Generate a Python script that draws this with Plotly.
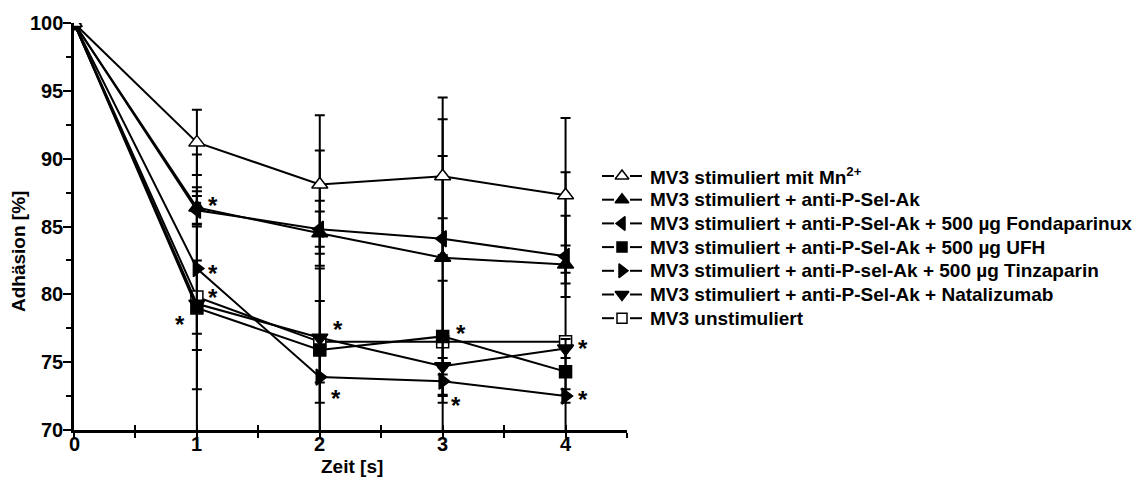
import plotly.graph_objects as go

# Zeitpunkte [s]
zeit = [0, 1, 2, 3, 4]

# Adhäsion [%] je Gruppe (Mittelwert und Fehler)
namen = [
    "MV3 stimuliert mit Mn<sup>2+</sup>",
    "MV3 stimuliert + anti-P-Sel-Ak",
    "MV3 stimuliert + anti-P-Sel-Ak + 500 µg Fondaparinux",
    "MV3 stimuliert + anti-P-Sel-Ak + 500 µg UFH",
    "MV3 stimuliert + anti-P-sel-Ak + 500 µg Tinzaparin",
    "MV3 stimuliert + anti-P-Sel-Ak + Natalizumab",
    "MV3 unstimuliert",
]
mn_stim = [100, 91.2, 88.1, 88.7, 87.3]
anti_psel = [100, 86.4, 84.5, 82.7, 82.2]
fondaparinux = [100, 86.2, 84.8, 84.1, 82.8]
ufh = [100, 79.0, 75.9, 76.9, 74.3]
tinzaparin = [100, 81.9, 73.9, 73.6, 72.5]
natalizumab = [100, 79.3, 76.8, 74.7, 76.0]
unstimuliert = [100, 79.8, 76.5, 76.5, 76.5]

err_mn_stim = [0, 2.4, 5.1, 5.8, 5.7]
err_anti_psel = [0, 1.2, 2.4, 10.2, 1.4]
err_fondaparinux = [0, 1.05, 1.3, 1.5, 3.0]
err_ufh = [0, 6.0, 6.0, 13.3, 1.7]
err_tinzaparin = [0, 6.0, 1.9, 1.0, 0.5]
err_natalizumab = [0, 11.0, 13.8, 0.6, 0.7]
err_unstimuliert = [0, 2.7, 3.0, 4.5, 12.5]

werte = [mn_stim, anti_psel, fondaparinux, ufh, tinzaparin, natalizumab, unstimuliert]
fehler = [err_mn_stim, err_anti_psel, err_fondaparinux, err_ufh,
          err_tinzaparin, err_natalizumab, err_unstimuliert]

# Achsenbeschriftung
y_ticks = [70, 75, 80, 85, 90, 95, 100]
x_ticks = [0, 1, 2, 3, 4]

# Signifikanz-Sterne: (Gruppe, Zeitindex, Versatz x px, Versatz y px)
sterne = [
    (1, 1, 16, 7), (4, 1, 16, 0), (6, 1, 16, 5), (3, 1, -17, -12),
    (5, 2, 18, 13), (4, 2, 16, -16),
    (3, 3, 18, 8), (4, 3, 13, -19),
    (6, 4, 17, -2), (4, 4, 17, 2),
]

symbole = ["triangle-up", "triangle-up", "triangle-left", "square",
           "triangle-right", "triangle-down", "square"]
fuellung = ["white", "black", "black", "black", "black", "black", "white"]
groessen = [14, 14, 14, 12, 14, 14, 12]

schrift = "Liberation Sans, Arial, sans-serif"

# Seitenaufteilung in Pixeln
BREITE, HOEHE = 1143, 487
RAND_L, RAND_R, RAND_O, RAND_U = 74, 5, 23, 57
FLAECHE_B = BREITE - RAND_L - RAND_R
FLAECHE_H = HOEHE - RAND_O - RAND_U
DIAGRAMM_B = 553          # Breite des Diagramms
LEG_X0, LEG_X1 = 598, BREITE - RAND_R
LEG_Y0 = 176              # erste Legendenzeile
LEG_DY = 23.7             # Zeilenabstand


def px_x(p):
    return (p - RAND_L) / FLAECHE_B


def px_y(p):
    return (HOEHE - RAND_U - p) / FLAECHE_H


fig = go.Figure()
# reversed drawing order so the filled markers sit above the open ones
for i in reversed(range(len(namen))):
    fig.add_trace(go.Scatter(
        x=zeit, y=werte[i], name=namen[i], mode="lines+markers",
        line=dict(color="black", width=2),
        marker=dict(symbol=symbole[i], size=groessen[i], color=fuellung[i],
                    line=dict(color="black", width=1.5)),
        error_y=dict(type="data", array=fehler[i], visible=True,
                     color="black", thickness=2, width=5),
        showlegend=False,
    ))

# invisible helper trace for the inner half of the crossing x ticks
fig.add_trace(go.Scatter(x=[0], y=[70], xaxis="x2", mode="markers",
                         marker=dict(opacity=0), showlegend=False,
                         hoverinfo="skip"))

# Legende: Linie mit Symbol und Text, Koordinaten in Pixeln (Achsen x3/y3)
for i, name in enumerate(namen):
    yy = LEG_Y0 + i * LEG_DY
    fig.add_trace(go.Scatter(
        x=[LEG_X0 + 4, LEG_X0 + 16, None, LEG_X0 + 32, LEG_X0 + 44],
        y=[yy, yy, None, yy, yy], xaxis="x3", yaxis="y3", mode="lines",
        line=dict(color="black", width=2), showlegend=False, hoverinfo="skip"))
    fig.add_trace(go.Scatter(
        x=[LEG_X0 + 24], y=[yy], xaxis="x3", yaxis="y3", mode="markers",
        marker=dict(symbol=symbole[i], size=groessen[i] - 2, color=fuellung[i],
                    line=dict(color="black", width=1.5)),
        showlegend=False, hoverinfo="skip", cliponaxis=False))
    fig.add_annotation(x=LEG_X0 + 50, y=yy, xref="x3", yref="y3",
                       text="<b>" + name + "</b>", showarrow=False,
                       xanchor="left", yanchor="middle",
                       font=dict(family=schrift, size=19, color="black"))

for g, t, dx, dy in sterne:
    fig.add_annotation(x=zeit[t], y=werte[g][t], text="<b>*</b>", showarrow=False,
                       xshift=dx, yshift=dy - 5,
                       font=dict(family=schrift, size=24, color="black"))

# Achsenbeschriftung als Text neben den Achsen
for v in x_ticks:
    fig.add_annotation(x=v, y=px_y(444), xref="x", yref="paper",
                       text="<b>%d</b>" % v, showarrow=False,
                       xanchor="center", yanchor="middle",
                       font=dict(family=schrift, size=20, color="black"))
for v in y_ticks:
    fig.add_annotation(x=px_x(65), y=v, xref="paper", yref="y",
                       text="<b>%d</b>" % v, showarrow=False,
                       xanchor="right", yanchor="middle",
                       font=dict(family=schrift, size=20, color="black"))

fig.add_annotation(x=px_x(18), y=px_y(252), xref="paper", yref="paper",
                   text="<b>Adhäsion [%]</b>", textangle=-90, showarrow=False,
                   xanchor="center", yanchor="middle",
                   font=dict(family=schrift, size=19, color="black"))
fig.add_annotation(x=px_x(352), y=px_y(467), xref="paper", yref="paper",
                   text="<b>Zeit [s]</b>", showarrow=False,
                   xanchor="center", yanchor="middle",
                   font=dict(family=schrift, size=19, color="black"))

dom_x = [0, DIAGRAMM_B / FLAECHE_B]
fig.update_layout(
    width=BREITE, height=HOEHE,
    margin=dict(l=RAND_L, r=RAND_R, t=RAND_O, b=RAND_U),
    plot_bgcolor="white", paper_bgcolor="white",
    font=dict(family=schrift, color="black"),
    showlegend=False,
    xaxis=dict(domain=dom_x, range=[0, 4.5], tickvals=x_ticks,
               showticklabels=False, showgrid=False, zeroline=False,
               showline=True, linecolor="black", linewidth=2.5,
               ticks="outside", ticklen=5, tickwidth=2, tickcolor="black",
               minor=dict(dtick=0.5, tick0=0, ticks="outside", ticklen=5,
                          tickwidth=2, tickcolor="black")),
    xaxis2=dict(domain=dom_x, range=[0, 4.5], overlaying="x", anchor="y",
                dtick=0.5, tick0=0, showgrid=False, zeroline=False,
                showline=False, ticks="inside", ticklen=5, tickwidth=2,
                tickcolor="black", showticklabels=False, side="bottom"),
    yaxis=dict(range=[70, 100], tickvals=y_ticks, showticklabels=False,
               showgrid=False, zeroline=False,
               showline=True, linecolor="black", linewidth=2.5,
               ticks="outside", ticklen=8, tickwidth=2, tickcolor="black",
               minor=dict(dtick=2.5, tick0=70, ticks="outside", ticklen=5,
                          tickwidth=2, tickcolor="black")),
    xaxis3=dict(domain=[px_x(LEG_X0), px_x(LEG_X1)], range=[LEG_X0, LEG_X1],
                anchor="y3", visible=False, fixedrange=True),
    yaxis3=dict(domain=[0, 1], range=[HOEHE - RAND_U, RAND_O], anchor="x3",
                visible=False, fixedrange=True),
)

fig.write_html("out.html")
